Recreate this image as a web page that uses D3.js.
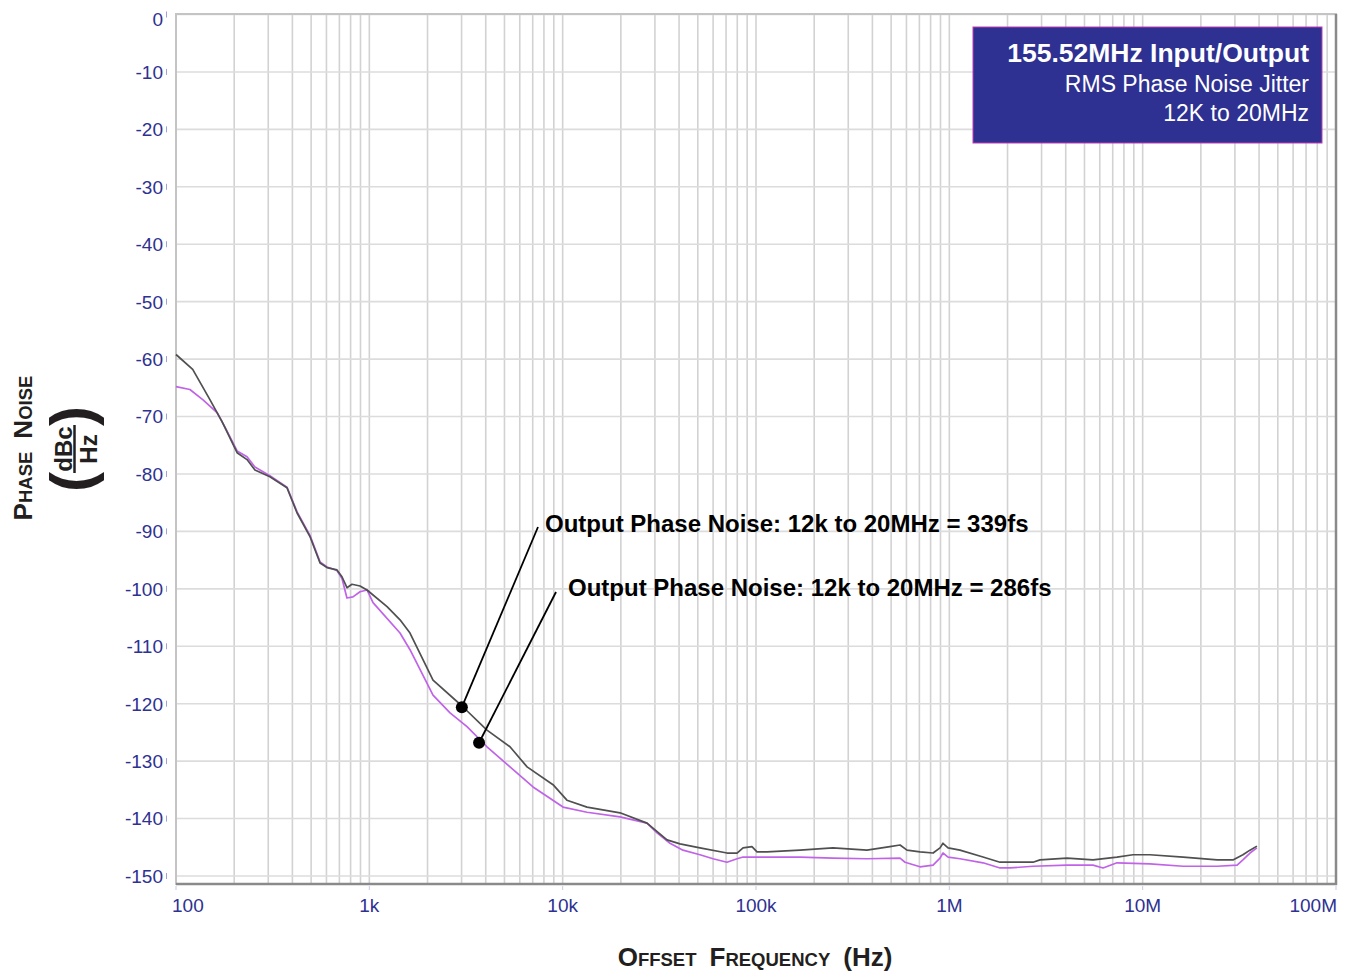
<!DOCTYPE html>
<html>
<head>
<meta charset="utf-8">
<script src="https://cdn.jsdelivr.net/npm/d3@7"></script>
<style>
  body { margin: 0; background: #fff; }
  text { font-family: "Liberation Sans", Arial, Helvetica, sans-serif; }
</style>
</head>
<body>
<svg id="chart" width="1353" height="973"></svg>
<script>
// data: offset frequency (Hz) and phase noise (dBc/Hz)

const darkFreq = [100, 122, 150, 173, 207, 233, 256, 306, 375, 423, 493, 556, 604, 680, 722, 766, 813, 895, 973,
  1235, 1441, 1623, 2135, 3015, 4060, 5340, 6545, 8915, 10520, 13360, 19800, 27300, 34660, 40450, 51290, 70800,
  79800, 85700, 95300, 101200, 114000, 169000, 250000, 375000, 493000, 556000, 604000, 705000, 824000, 895000,
  927000, 985000, 1135000, 1493000, 1828000, 2710000, 2944000, 4063000, 5535000, 7366000, 8910000, 10.9e6,
  16.2e6, 24.3e6, 29.3e6, 33.0e6, 35.9e6, 39.0e6];
const darkDb = [-59.2, -61.8, -67.1, -70.9, -76.3, -77.5, -79.3, -80.5, -82.4, -86.8, -90.9, -95.5, -96.3, -96.7,
  -97.9, -99.8, -99.2, -99.5, -100.2, -103.1, -105.4, -107.7, -115.9, -120.4, -124.6, -127.5, -131.0, -134.1,
  -136.8, -138.0, -139.0, -140.8, -143.7, -144.4, -145.1, -146.0, -146.0, -145.1, -144.9, -145.8, -145.8, -145.5,
  -145.1, -145.5, -144.9, -144.6, -145.5, -145.8, -146.0, -145.1, -144.3, -145.1, -145.5, -146.7, -147.6, -147.6,
  -147.2, -146.9, -147.2, -146.7, -146.3, -146.3, -146.7, -147.2, -147.2, -146.3, -145.5, -144.8];

const violetFreq = [100, 118, 138, 163, 179, 207, 233, 256, 306, 375, 423, 493, 556, 604, 680, 722, 766, 823, 895,
  973, 1045, 1441, 1623, 2135, 2615, 3200, 4060, 5340, 7025, 10040, 13360, 19800, 27300, 30760, 35900, 41900,
  51290, 59950, 70800, 79800, 85700, 101200, 169000, 250000, 375000, 556000, 590000, 705000, 824000, 895000,
  927000, 985000, 1135000, 1493000, 1828000, 2061000, 2710000, 4063000, 5535000, 6240000, 7366000, 10.9e6,
  16.2e6, 24.3e6, 30.8e6, 33.0e6, 35.9e6, 39.0e6];
const violetDb = [-64.8, -65.3, -67.1, -69.3, -71.8, -76.0, -77.0, -78.8, -80.3, -82.3, -86.6, -90.7, -95.3, -96.2,
  -96.8, -98.2, -101.6, -101.4, -100.5, -100.2, -102.4, -107.7, -110.6, -118.5, -121.6, -124.0, -127.5, -131.0,
  -134.5, -138.0, -138.9, -139.7, -140.8, -142.5, -144.3, -145.5, -146.3, -147.0, -147.6, -147.0, -146.7, -146.7,
  -146.7, -146.9, -147.0, -146.9, -147.6, -148.4, -148.1, -146.9, -146.0, -146.7, -147.0, -147.7, -148.6, -148.6,
  -148.3, -148.1, -148.1, -148.6, -147.7, -147.9, -148.3, -148.3, -148.1, -147.2, -146.0, -145.1];

const yTicks = d3.range(0, -151, -10);
const xTicks = [1e2, 1e3, 1e4, 1e5, 1e6, 1e7, 1e8];
const xTickLabels = ["100", "1k", "10k", "100k", "1M", "10M", "100M"];

const boxLines = ["155.52MHz Input/Output", "RMS Phase Noise Jitter", "12K to 20MHz"];
const noteLabels = ["Output Phase Noise: 12k to 20MHz = 339fs", "Output Phase Noise: 12k to 20MHz = 286fs"];
const noteFreq = [3010, 3694];
const noteDb = [-120.6, -126.8];

// layout

const plot = { left: 176, top: 14, right: 1336, bottom: 884 };
const blue = "#2e3192";

const svg = d3.select("#chart");

const x = d3.scaleLog().domain([100, 1e8]).range([plot.left, plot.right]);
const y = d3.scaleLinear().domain([0, -150]).range([14.5, 876]);

// grid

const grid = svg.append("g");

grid.selectAll(".vg")
    .data(x.ticks())
    .join("line")
    .attr("x1", d => x(d)).attr("x2", d => x(d))
    .attr("y1", plot.top).attr("y2", plot.bottom)
    .style("stroke", "#d2d2d2")
    .style("stroke-width", 1.6);

grid.selectAll(".hg")
    .data(yTicks)
    .join("line")
    .attr("x1", plot.left).attr("x2", plot.right)
    .attr("y1", d => y(d)).attr("y2", d => y(d))
    .style("stroke", "#dcdcdc")
    .style("stroke-width", 1.6);

// frame
svg.append("rect")
   .attr("x", plot.left).attr("y", plot.top)
   .attr("width", plot.right - plot.left).attr("height", plot.bottom - plot.top)
   .style("fill", "none")
   .style("stroke", "#c4c4c4")
   .style("stroke-width", 2);

svg.append("path")
   .attr("d", `M${plot.left},${plot.bottom}H${plot.right}V${plot.top}`)
   .style("fill", "none")
   .style("stroke", "#8a8a8a")
   .style("stroke-width", 2.5);

// y axis labels and small ticks
const yAxis = svg.append("g");

yAxis.selectAll("text")
     .data(yTicks)
     .join("text")
     .attr("x", 163)
     .attr("y", d => d === 0 ? y(d) + 5 : y(d))
     .attr("dy", "0.36em")
     .attr("text-anchor", "end")
     .style("font-size", "19px")
     .style("fill", blue)
     .text(d => d);

yAxis.selectAll("line")
     .data(yTicks)
     .join("line")
     .attr("x1", 166.5).attr("x2", 166.5)
     .attr("y1", d => y(d) - 3).attr("y2", d => y(d) + 3)
     .style("stroke", "#9fa1d8")
     .style("stroke-width", 1);

// x axis labels
const xAxis = svg.append("g");

xAxis.selectAll("text")
     .data(xTicks)
     .join("text")
     .attr("x", (d, i) => i === 0 ? x(d) - 4 : (i === xTicks.length - 1 ? x(d) + 1 : x(d)))
     .attr("y", 912)
     .attr("text-anchor", (d, i) => i === 0 ? "start" : (i === xTicks.length - 1 ? "end" : "middle"))
     .style("font-size", "19px")
     .style("fill", blue)
     .text((d, i) => xTickLabels[i]);

xAxis.selectAll("line")
     .data(xTicks)
     .join("line")
     .attr("x1", d => x(d)).attr("x2", d => x(d))
     .attr("y1", plot.bottom + 2).attr("y2", plot.bottom + 6)
     .style("stroke", "#c9cae6")
     .style("stroke-width", 1);

// traces
const line = d3.line()
               .x(d => x(d[0]))
               .y(d => y(d[1]));

svg.append("path")
   .datum(violetFreq.map((f, i) => [f, violetDb[i]]))
   .attr("d", line)
   .style("fill", "none")
   .style("stroke", "#c163e8")
   .style("stroke-width", 1.7)
   .style("stroke-linejoin", "round");

svg.append("path")
   .datum(darkFreq.map((f, i) => [f, darkDb[i]]))
   .attr("d", line)
   .style("fill", "none")
   .style("stroke", "#505050")
   .style("stroke-width", 1.7)
   .style("stroke-linejoin", "round");

// annotations
const noteAnchors = [[538, 527], [556, 592]];
const noteText = [[545, 532], [568, 596]];

noteFreq.forEach((f, i) => {
    svg.append("line")
       .attr("x1", x(f)).attr("y1", y(noteDb[i]))
       .attr("x2", noteAnchors[i][0]).attr("y2", noteAnchors[i][1])
       .style("stroke", "#000")
       .style("stroke-width", 1.8);
    svg.append("circle")
       .attr("cx", x(f)).attr("cy", y(noteDb[i]))
       .attr("r", 6)
       .style("fill", "#000");
    svg.append("text")
       .attr("x", noteText[i][0]).attr("y", noteText[i][1])
       .style("font-size", "24px")
       .style("font-weight", "bold")
       .style("fill", "#000")
       .text(noteLabels[i]);
});

// title box
svg.append("rect")
   .attr("x", 973).attr("y", 27)
   .attr("width", 349).attr("height", 116)
   .style("fill", blue)
   .style("stroke", "#c03fb4")
   .style("stroke-width", 1);

const boxText = svg.append("g").attr("text-anchor", "end").style("fill", "#fff");
boxText.append("text").attr("x", 1309).attr("y", 62)
       .style("font-size", "26.5px").style("font-weight", "bold").text(boxLines[0]);
boxText.append("text").attr("x", 1309).attr("y", 92)
       .style("font-size", "23px").text(boxLines[1]);
boxText.append("text").attr("x", 1309).attr("y", 121)
       .style("font-size", "23px").text(boxLines[2]);

// axis titles in small caps
function smallCaps(sel, parts) {
    parts.forEach(p => {
        sel.append("tspan").style("font-size", p[1] + "px").text(p[0]);
    });
}

const xTitle = svg.append("text")
                  .attr("x", 755).attr("y", 966)
                  .attr("text-anchor", "middle")
                  .style("font-weight", "bold")
                  .style("fill", "#231f20");
smallCaps(xTitle, [["O", 26], ["FFSET", 18.5], ["\u2002F", 26], ["REQUENCY", 18.5], ["\u2002(Hz)", 26]]);

const yTitle = svg.append("text")
                  .attr("transform", "translate(32,448) rotate(-90)")
                  .attr("text-anchor", "middle")
                  .style("font-weight", "bold")
                  .style("fill", "#231f20");
smallCaps(yTitle, [["P", 26], ["HASE", 18.5], ["\u2002N", 26], ["OISE", 18.5]]);

const unit = svg.append("g")
                .attr("transform", "translate(75,449) rotate(-90)")
                .attr("text-anchor", "middle")
                .style("font-weight", "bold")
                .style("fill", "#231f20");
unit.append("text").attr("x", 0).attr("y", -3).style("font-size", "24px").text("dBc");
unit.append("line")
    .attr("x1", -24).attr("x2", 24).attr("y1", -0.5).attr("y2", -0.5)
    .style("stroke", "#231f20").style("stroke-width", 2.5);
unit.append("text").attr("x", 0).attr("y", 22).style("font-size", "24px").text("Hz");
unit.append("text").attr("x", -33).attr("y", 17).style("font-size", "60px").text("(");
unit.append("text").attr("x", 33).attr("y", 17).style("font-size", "60px").text(")");
</script>
</body>
</html>
